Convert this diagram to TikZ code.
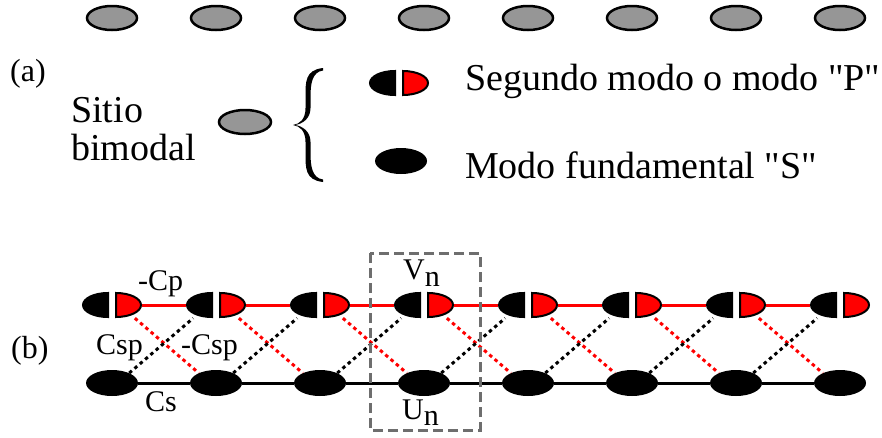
\documentclass[tikz,border=0pt]{standalone}
\usepackage{fontspec}
\setmainfont{Liberation Serif}
\usetikzlibrary{shapes.geometric,backgrounds}

\definecolor{sitegray}{RGB}{150,150,150}
\definecolor{modered}{RGB}{255,0,0}
\definecolor{cellgray}{RGB}{110,110,110}

\tikzset{
  graysite/.style={ellipse, draw=black, line width=2.5pt, fill=sitegray,
    minimum width=50pt, minimum height=24pt, inner sep=0pt},
  smode/.style={ellipse, fill=black, minimum width=52pt, minimum height=26pt, inner sep=0pt},
  pbox/.style={rectangle, minimum width=60pt, minimum height=26pt, inner sep=0pt},
  bigtext/.style={font=\fontsize{38}{44}\selectfont, inner sep=0pt, anchor=base west},
  lbl/.style={font=\fontsize{30}{34}\selectfont, inner sep=0pt, anchor=base west},
  plink/.style={draw=modered, line width=3pt},
  slink/.style={draw=black, line width=3pt},
  pdots/.style={draw=modered, line width=3pt, dash pattern=on 3.5pt off 3.5pt},
  sdots/.style={draw=black, line width=3pt, dash pattern=on 3.5pt off 3.5pt},
  cellbox/.style={draw=cellgray, line width=3pt, dash pattern=on 10pt off 5pt},
  splitsite/.pic={
    \filldraw[draw=black, fill=black, line width=2pt]
      (-4,12) -- (-4,-12) arc[start angle=270, end angle=90, x radius=25, y radius=12] -- cycle;
    \filldraw[draw=black, fill=modered, line width=2pt]
      (4,12) -- (4,-12) arc[start angle=-90, end angle=90, x radius=25, y radius=12] -- cycle;
  }
}

\begin{document}
\begin{tikzpicture}[x=1pt, y=1pt]
\useasboundingbox (0,0) rectangle (882,-437);

% row of bimodal sites
\foreach \k [evaluate=\k as \cx using 8+104*\k] in {1,...,8}
  \node[graysite] (g\k) at (\cx,-18) {};

% (a) legend
\node[lbl, font=\fontsize{32}{36}\selectfont] (la) at (10,-81) {(a)};
\node[bigtext] (sitio) at (71,-122) {Sitio};
\node[bigtext] (bimodal) at (71,-160) {bimodal};
\node[graysite, minimum width=52pt] (site) at (245,-122) {};
% curly brace, filled with tapered arms
\fill[black]
  (323,-68) .. controls (305,-70) and (305.5,-82) .. (305.5,-97) -- (305.5,-108)
  .. controls (305.5,-119) and (300,-124) .. (293,-125)
  .. controls (300,-126) and (305.5,-131) .. (305.5,-142) -- (305.5,-153)
  .. controls (305.5,-168) and (305,-180) .. (323,-182) -- (323,-179.5)
  .. controls (312,-178) and (310.5,-166) .. (310.5,-153) -- (310.5,-142)
  .. controls (310.5,-131) and (302,-126) .. (295,-125)
  .. controls (302,-124) and (310.5,-119) .. (310.5,-108) -- (310.5,-97)
  .. controls (310.5,-84) and (312,-72) .. (323,-70.5) -- cycle;
\node[pbox] (pleg) at (399,-83) {};
\pic at (pleg) {splitsite};
\node[smode] (sleg) at (401,-161) {};
\node[bigtext] (ptext) at (465,-90) {Segundo modo o modo \textquotedbl P\textquotedbl};
\node[bigtext] (stext) at (465,-178) {Modo fundamental \textquotedbl S\textquotedbl};

% (b) chain of two-mode sites
\node[lbl, font=\fontsize{32}{36}\selectfont] (lb) at (11,-358) {(b)};
\foreach \k [evaluate=\k as \cx using 8+104*\k] in {1,...,8} {
  \node[pbox] (t\k) at (\cx,-305) {};
  \node[smode] (b\k) at (\cx,-383) {};
  \pic at (t\k) {splitsite};
}

\begin{scope}[on background layer]
\foreach \k [evaluate=\k as \n using int(\k+1)] in {1,...,7} {
  \draw[pdots] (t\k.330) -- (b\n.150);
  \draw[sdots] (b\k.30) -- (t\n.210);
  \draw[plink] (t\k.east) -- (t\n.west);
  \draw[slink] (b\k.east) -- (b\n.west);
}
\end{scope}

% coupling labels
\node[lbl] (cp) at (138,-290) {-Cp};
\node[lbl] (csp) at (96,-354) {Csp};
\node[lbl] (mcsp) at (181,-354) {-Csp};
\node[lbl] (cs) at (145,-411) {Cs};

% unit cell
\draw[cellbox] (370,-253) rectangle (480,-430);
\node[lbl] (vn) at (403,-279) {V\raisebox{-7pt}{n}};
\node[lbl] (un) at (402,-419) {U\raisebox{-6pt}{n}};
\end{tikzpicture}
\end{document}
